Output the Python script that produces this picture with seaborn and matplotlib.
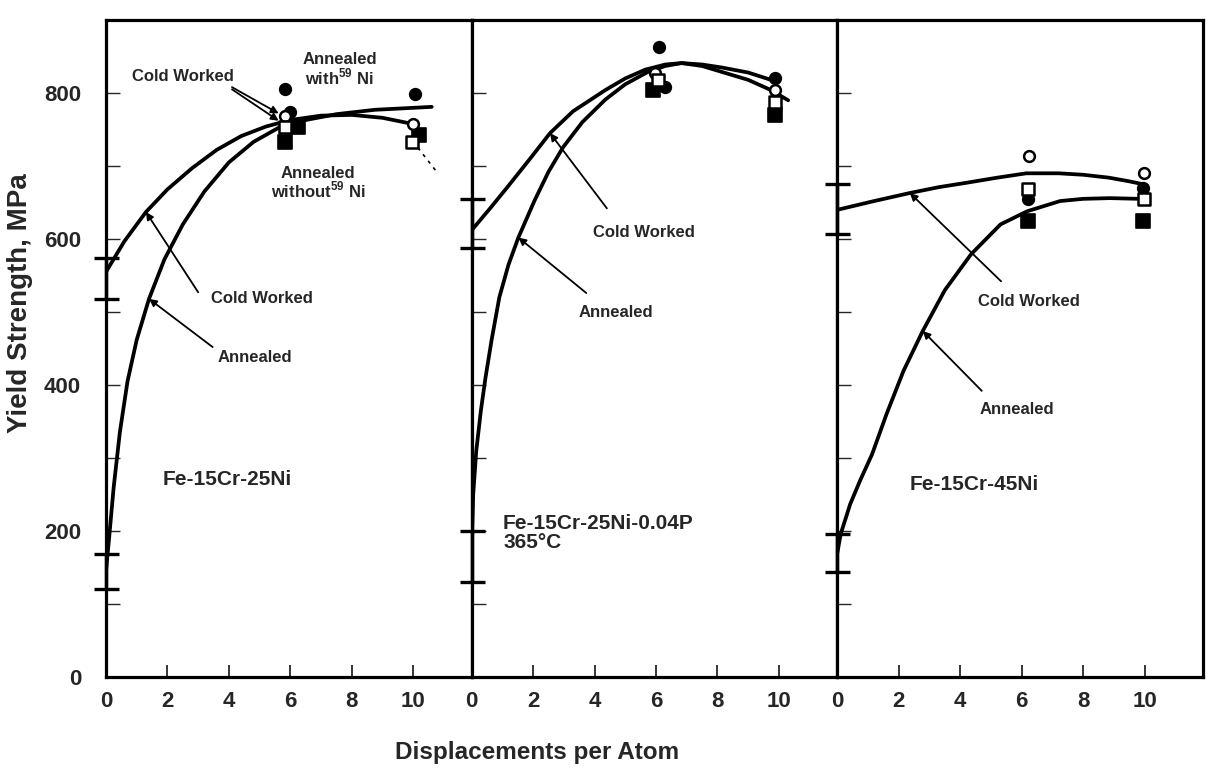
import matplotlib
matplotlib.use("Agg")
import matplotlib.pyplot as plt
from matplotlib import font_manager
import seaborn as sns

# ---------------------------------------------------------------- data
alloys = ["Fe-15Cr-25Ni", "Fe-15Cr-25Ni-0.04P\n365°C", "Fe-15Cr-45Ni"]
x_ticks = [0, 2, 4, 6, 8, 10]
y_ticks = [0, 200, 400, 600, 800]
y_minor = [100, 300, 500, 700]

# trend curves drawn through the data, (dpa, yield strength in MPa)
ann1_dpa = [0.0, 0.1, 0.25, 0.45, 0.7, 1.0, 1.4, 1.9, 2.5, 3.2, 4.0, 4.8, 5.6, 6.5, 7.5, 8.75, 10.6]
ann1_ys = [145, 190, 260, 335, 405, 462, 518, 572, 620, 665, 705, 733, 752, 763, 771, 777, 781]
cw1_dpa = [0.0, 0.6, 1.3, 2.0, 2.8, 3.6, 4.4, 5.2, 6.0, 7.0, 8.0, 9.0, 10.05]
cw1_ys = [555, 597, 637, 668, 697, 722, 741, 754, 763, 769, 770, 766, 757]
cw1_ext_dpa = [10.15, 10.8]
cw1_ext_ys = [725, 690]

ann2_dpa = [0.0, 0.05, 0.15, 0.3, 0.45, 0.65, 0.9, 1.2, 1.52, 2.05, 2.5, 2.98, 3.6,
            4.35, 5.0, 5.74, 6.3, 6.83, 7.5, 8.13, 9.0, 9.74]
ann2_ys = [165, 250, 310, 365, 410, 462, 520, 565, 602, 653, 692, 726, 760,
           791, 812, 829, 837, 841, 839, 835, 828, 818]
cw2_dpa = [0.0, 0.6, 1.2, 1.9, 2.55, 3.3, 4.35, 5.0, 5.65, 6.3, 6.83, 7.5, 8.13, 9.0, 9.74, 10.3]
cw2_ys = [612, 642, 673, 710, 745, 775, 804, 820, 832, 839, 841, 837, 829, 818, 804, 790]

ann3_dpa = [0.0, 0.11, 0.42, 0.75, 1.13, 1.6, 2.15, 2.78, 3.5, 4.35, 5.31, 6.18, 7.25, 8.0, 8.87, 9.84]
ann3_ys = [170, 196, 237, 270, 305, 360, 419, 474, 530, 579, 620, 638, 652, 655, 656, 655]
cw3_dpa = [0.0, 1.2, 2.36, 3.3, 4.2, 5.2, 6.15, 7.2, 8.0, 8.84, 9.5, 9.95]
cw3_ys = [640, 652, 663, 671, 677, 684, 690, 690, 688, 684, 679, 675]

# unirradiated strength with scatter band (dpa = 0)
unirr_cw_mid = [546, 621, 641]
unirr_cw_half = [28, 34, 34]
unirr_ann_mid = [145, 165, 170]
unirr_ann_half = [24, 35, 26]

# measured points: annealed / cold worked, with / without 59Ni
ann_with_dpa = [[5.83, 6.0, 10.05], [6.09, 6.28, 9.88], [6.2, 9.95]]
ann_with_ys = [[805, 774, 798], [863, 808, 821], [655, 670]]
ann_without_dpa = [[6.24, 5.82, 10.2], [5.9, 9.88], [6.2, 9.95]]
ann_without_ys = [[753, 733, 742], [804, 770], [625, 625]]
cw_with_dpa = [[5.82, 9.98], [5.96, 9.87], [6.24, 9.98]]
cw_with_ys = [[768, 757], [828, 804], [714, 690]]
cw_without_dpa = [[5.82, 9.97], [6.08, 9.86], [6.2, 9.98]]
cw_without_ys = [[753, 733], [818, 788], [668, 655]]

curves = [
    [(ann1_dpa, ann1_ys), (cw1_dpa, cw1_ys)],
    [(ann2_dpa, ann2_ys), (cw2_dpa, cw2_ys)],
    [(ann3_dpa, ann3_ys), (cw3_dpa, cw3_ys)],
]

# ---------------------------------------------------------------- style
sns.set_style("ticks")
available = {f.name for f in font_manager.fontManager.ttflist}
narrow = "Liberation Sans Narrow" if "Liberation Sans Narrow" in available else "Liberation Sans"
plt.rcParams["font.family"] = ["Liberation Sans", "DejaVu Sans"]
plt.rcParams["mathtext.fontset"] = "custom"
plt.rcParams["mathtext.rm"] = "Liberation Sans:bold"
plt.rcParams["mathtext.bf"] = "Liberation Sans:bold"

fig = plt.figure(figsize=(12.08, 7.71), dpi=100)
left_px, right_px, top_px, bottom_px = 106, 1203, 20, 677
W, H = 1208, 771
panel_w = (right_px - left_px) / 3
axes = []
for i in range(3):
    ax = fig.add_axes([(left_px + i * panel_w) / W, 1 - bottom_px / H,
                       panel_w / W, (bottom_px - top_px) / H])
    axes.append(ax)

LW = 2.7
for i, ax in enumerate(axes):
    ax.set_xlim(0, 11.9)
    ax.set_ylim(0, 900)
    for (cx, cy) in curves[i]:
        sns.lineplot(x=cx, y=cy, ax=ax, color="black", lw=LW, sort=False,
                     estimator=None, solid_capstyle="round", solid_joinstyle="round")
    # scatter bands of the unirradiated condition
    for mid, half in ((unirr_cw_mid[i], unirr_cw_half[i]), (unirr_ann_mid[i], unirr_ann_half[i])):
        ax.errorbar([0], [mid], yerr=[half], fmt="none", ecolor="black",
                    elinewidth=2.5, capsize=9, capthick=2.4, clip_on=False, zorder=5)

    sns.scatterplot(x=ann_with_dpa[i], y=ann_with_ys[i], ax=ax, marker="o", s=70,
                    color="black", edgecolor="black", linewidth=1.2, zorder=6)
    sns.scatterplot(x=ann_without_dpa[i], y=ann_without_ys[i], ax=ax, marker="s", s=95,
                    color="black", edgecolor="black", linewidth=1.2, zorder=6)
    sns.scatterplot(x=cw_with_dpa[i], y=cw_with_ys[i], ax=ax, marker="o", s=60,
                    color="white", edgecolor="black", linewidth=1.8, zorder=7)
    sns.scatterplot(x=cw_without_dpa[i], y=cw_without_ys[i], ax=ax, marker="s", s=85,
                    color="white", edgecolor="black", linewidth=1.8, zorder=7)

    for sp in ax.spines.values():
        sp.set_visible(True)
        sp.set_linewidth(2.3)
        sp.set_color("black")
    ax.set_xticks(x_ticks)
    ax.set_yticks(y_ticks)
    ax.set_yticks(y_minor, minor=True)
    ax.tick_params(axis="x", direction="in", length=9, width=1.3, pad=10,
                   labelsize=16, bottom=True, top=False)
    ax.tick_params(axis="y", which="both", direction="in", length=10, width=1.0,
                   pad=18, labelsize=16, left=True, right=False)
    for lab in ax.get_xticklabels():
        lab.set_fontweight("bold")
        lab.set_family([narrow, "DejaVu Sans"])
    if i == 0:
        for lab in ax.get_yticklabels():
            lab.set_fontweight("bold")
    else:
        ax.tick_params(axis="y", labelleft=False)
    ax.set_xlabel("")
    ax.set_ylabel("")

ax1, ax2, ax3 = axes
sns.lineplot(x=cw1_ext_dpa, y=cw1_ext_ys, ax=ax1, color="black", lw=1.2,
             linestyle=(0, (2, 3)), sort=False, estimator=None)

ann_kw = dict(fontsize=12, fontweight="bold", ha="center", va="center")
arrow = dict(arrowstyle="-|>", lw=1.3, color="black", mutation_scale=11, shrinkA=0, shrinkB=0)

# panel 1 notes
ax1.text(2.52, 822, "Cold Worked", **ann_kw)
ax1.annotate("", xy=(cw_with_dpa[0][0] - 0.2, cw_with_ys[0][0] + 4), xytext=(4.1, 808), arrowprops=arrow)
ax1.annotate("", xy=(cw_without_dpa[0][0] - 0.2, cw_without_ys[0][0] + 9), xytext=(4.1, 805), arrowprops=arrow)
ax1.text(7.6, 832, "Annealed\nwith$^{59}$ Ni", linespacing=0.95, **ann_kw)
ax1.text(6.9, 676, "Annealed\nwithout$^{59}$ Ni", linespacing=0.95, **ann_kw)
ax1.text(5.08, 518, "Cold Worked", **ann_kw)
ax1.annotate("", xy=(cw1_dpa[2], cw1_ys[2]), xytext=(3.0, 527), arrowprops=arrow)
ax1.text(4.85, 438, "Annealed", **ann_kw)
ax1.annotate("", xy=(ann1_dpa[6], ann1_ys[6]), xytext=(3.47, 452), arrowprops=arrow)
ax1.text(3.94, 271, alloys[0], fontsize=15, fontweight="bold", ha="center", va="center")

# panel 2 notes
ax2.text(5.6, 609, "Cold Worked", **ann_kw)
ax2.annotate("", xy=(cw2_dpa[4], cw2_ys[4]), xytext=(4.4, 642), arrowprops=arrow)
ax2.text(4.69, 499, "Annealed", **ann_kw)
ax2.annotate("", xy=(ann2_dpa[8], ann2_ys[8]), xytext=(3.73, 526), arrowprops=arrow)
ax2.text(1.02, 197, alloys[1], fontsize=15, fontweight="bold", ha="left", va="center",
         linespacing=1.0)

# panel 3 notes
ax3.text(6.24, 515, "Cold Worked", **ann_kw)
ax3.annotate("", xy=(cw3_dpa[2], cw3_ys[2]), xytext=(5.33, 542), arrowprops=arrow)
ax3.text(5.83, 367, "Annealed", **ann_kw)
ax3.annotate("", xy=(ann3_dpa[7], ann3_ys[7]), xytext=(4.7, 392), arrowprops=arrow)
ax3.text(4.47, 264, alloys[2], fontsize=15, fontweight="bold", ha="center", va="center")

fig.text(20 / W, 1 - 303 / H, "Yield Strength, MPa", rotation=90, ha="center", va="center",
         fontsize=20, fontweight="bold", family=[narrow, "DejaVu Sans"])
fig.text(537 / W, 1 - 752 / H, "Displacements per Atom", ha="center", va="center",
         fontsize=17.5, fontweight="bold", family=[narrow, "DejaVu Sans"])

fig.savefig("out.png", dpi=100, facecolor="white")
